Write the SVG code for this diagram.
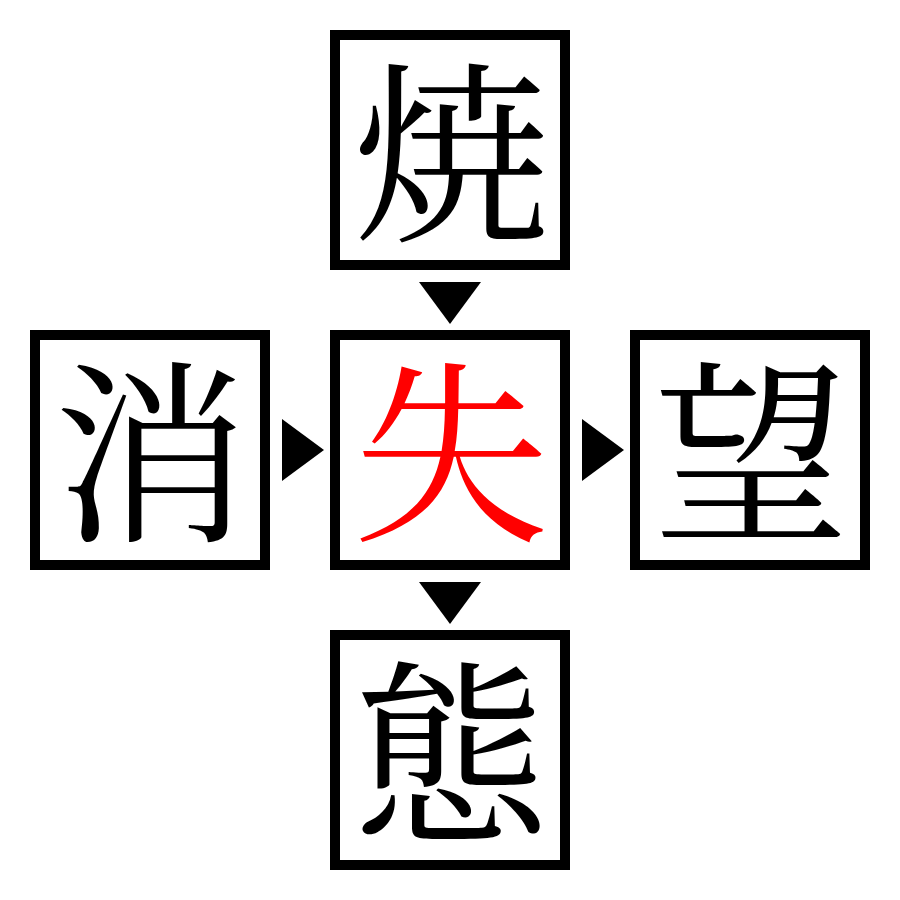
<svg xmlns="http://www.w3.org/2000/svg" width="900" height="900" viewBox="0 0 900 900">
<style>
.box{fill:#fff;stroke:#000;stroke-width:10}
.ch{font-family:"Noto Serif CJK JP","Noto Sans CJK JP",serif;font-size:196px;text-anchor:middle}
.arr{fill:#000}
</style>
<rect width="900" height="900" fill="#fff"/>
<g id="node-top"><rect class="box" x="335" y="35" width="230" height="230"/><text class="ch" x="451" y="226">焼</text></g>
<g id="node-left"><rect class="box" x="35" y="335" width="230" height="230"/><text class="ch" x="151" y="526">消</text></g>
<g id="node-center"><rect class="box" x="335" y="335" width="230" height="230"/><text class="ch" x="451" y="526" fill="#ff0000">失</text></g>
<g id="node-right"><rect class="box" x="635" y="335" width="230" height="230"/><text class="ch" x="751" y="526">望</text></g>
<g id="node-bottom"><rect class="box" x="335" y="635" width="230" height="230"/><text class="ch" x="451" y="826">態</text></g>
<g id="connectors">
<polygon class="arr" points="419,282 481,282 450,324"/>
<polygon class="arr" points="282,419 282,481 324,450"/>
<polygon class="arr" points="582,419 582,481 624,450"/>
<polygon class="arr" points="419,582 481,582 450,624"/>
</g>
</svg>
